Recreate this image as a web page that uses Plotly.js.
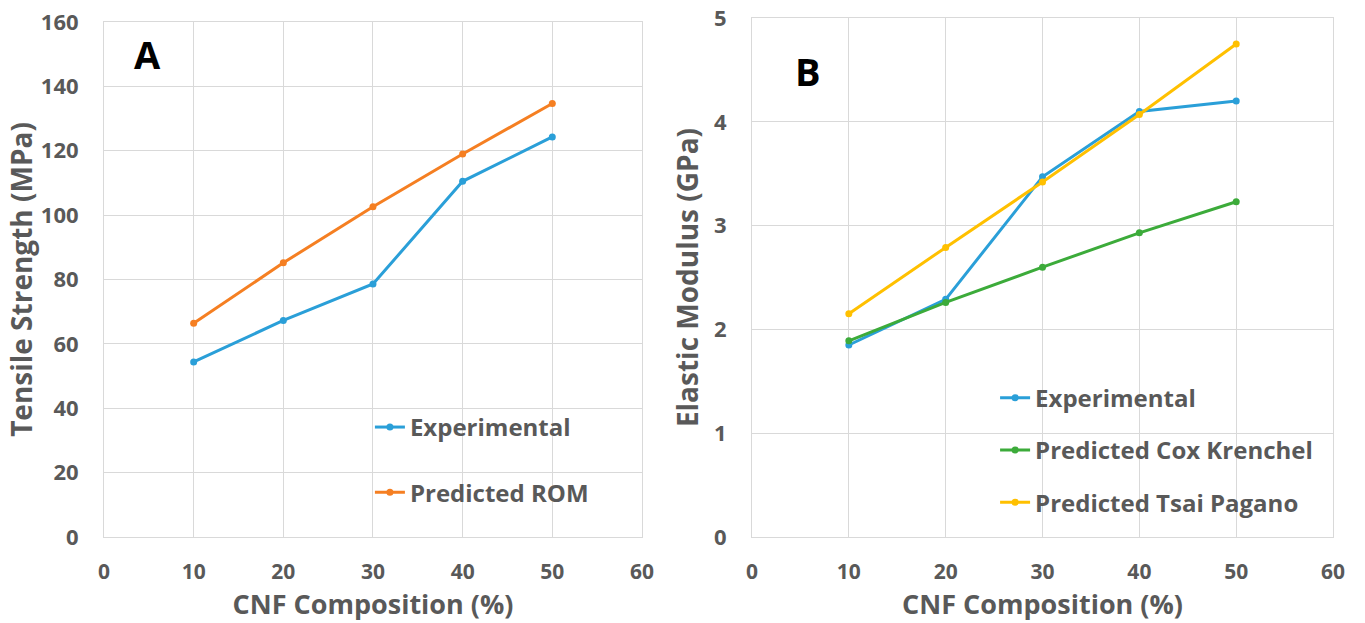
<!DOCTYPE html>
<html>
<head>
<meta charset="utf-8">
<script src="https://cdn.plot.ly/plotly-3.0.1.min.js"></script>
<style>html,body{margin:0;padding:0;background:#fff;}#chart{width:1365px;height:623px;}</style>
</head>
<body>
<div id="chart"></div>
<script>
const composition = [10, 20, 30, 40, 50];
const tensileExperimental = [54.4, 67.3, 78.6, 110.5, 124.3];
const tensileROM = [66.4, 85.2, 102.6, 119.0, 134.7];
const modulusExperimental = [1.85, 2.29, 3.47, 4.10, 4.20];
const modulusCoxKrenchel = [1.89, 2.26, 2.60, 2.93, 3.23];
const modulusTsaiPagano = [2.15, 2.79, 3.42, 4.07, 4.75];
const xTicks = [0, 10, 20, 30, 40, 50, 60];
const yTicksA = [0, 20, 40, 60, 80, 100, 120, 140, 160];
const yTicksB = [0, 1, 2, 3, 4, 5];

const FONT = '"Open Sans", sans-serif';
const GRAY = '#595959';
const GRID = '#d9d9d9';

function tr(x, y, name, color, xa, ya, leg, grp) {
  return {x: x, y: y, name: name, type: 'scatter', mode: 'lines+markers',
    line: {color: color, width: 3}, marker: {color: color, size: 7},
    xaxis: xa, yaxis: ya, legend: leg, legendgroup: grp};
}

const data = [
  tr(composition, tensileExperimental, 'Experimental', '#2a9fd8', 'x', 'y', 'legend', 'a1'),
  tr(composition, tensileROM, 'Predicted ROM', '#f57f22', 'x', 'y', 'legend', 'a2'),
  tr(composition, modulusExperimental, 'Experimental', '#2a9fd8', 'x2', 'y2', 'legend2', 'b1'),
  tr(composition, modulusCoxKrenchel, 'Predicted Cox Krenchel', '#3cab3a', 'x2', 'y2', 'legend2', 'b2'),
  tr(composition, modulusTsaiPagano, 'Predicted Tsai Pagano', '#ffc000', 'x2', 'y2', 'legend2', 'b3')
];

function xax(domain, anchor) {
  return {domain: domain, anchor: anchor, range: [0, 60], tickvals: xTicks,
    ticktext: xTicks.map(String), showgrid: true, gridcolor: GRID, gridwidth: 1,
    showline: true, linecolor: GRID, mirror: true, zeroline: false, ticks: '',
    ticklabelstandoff: 16,
    tickfont: {family: FONT, size: 21, color: GRAY, weight: 'bold'},
    title: {text: 'CNF Composition (%)', standoff: 6,
      font: {family: FONT, size: 27, color: GRAY, weight: 'bold'}}};
}
function yax(domain, anchor, range, ticks, title, standoff) {
  return {domain: domain, anchor: anchor, range: range, tickvals: ticks,
    ticktext: ticks.map(String), showgrid: true, gridcolor: GRID, gridwidth: 1,
    showline: true, linecolor: GRID, mirror: true, zeroline: false, ticks: '',
    ticklabelstandoff: 20,
    tickfont: {family: FONT, size: 22, color: GRAY, weight: 'bold'},
    title: {text: title, standoff: standoff,
      font: {family: FONT, size: 28, color: GRAY, weight: 'bold'}}};
}

const layout = {
  width: 1365, height: 623,
  margin: {l: 0, r: 0, t: 0, b: 0},
  paper_bgcolor: '#fff', plot_bgcolor: '#fff',
  showlegend: true,
  xaxis: xax([0.0762, 0.4703], 'y'),
  yaxis: yax([0.138, 0.9647], 'x', [0, 160], yTicksA, 'Tensile Strength (MPa)', 0),
  xaxis2: xax([0.5509, 0.9766], 'y2'),
  yaxis2: yax([0.138, 0.9711], 'x2', [0, 5], yTicksB, 'Elastic Modulus (GPa)', 7),
  legend: {x: 0.271, y: 0.35, xanchor: 'left', yanchor: 'top', bgcolor: 'rgba(0,0,0,0)',
    tracegroupgap: 31, itemwidth: 30, font: {family: FONT, size: 24, color: GRAY, weight: 'bold'}},
  legend2: {x: 0.729, y: 0.397, xanchor: 'left', yanchor: 'top', bgcolor: 'rgba(0,0,0,0)',
    tracegroupgap: 18, itemwidth: 30, font: {family: FONT, size: 24, color: GRAY, weight: 'bold'}},
  annotations: [
    {text: 'A', x: 147, y: 54, xref: 'paper', yref: 'paper', showarrow: false,
      xanchor: 'center', yanchor: 'middle',
      font: {family: FONT, size: 38, color: '#000', weight: 'bold'}},
    {text: 'B', x: 808, y: 71, xref: 'paper', yref: 'paper', showarrow: false,
      xanchor: 'center', yanchor: 'middle',
      font: {family: FONT, size: 38, color: '#000', weight: 'bold'}}
  ]
};
layout.annotations.forEach(a => { a.x = a.x / 1365; a.y = 1 - a.y / 623; });

Plotly.newPlot('chart', data, layout, {displayModeBar: false, staticPlot: true});
</script>
</body>
</html>
